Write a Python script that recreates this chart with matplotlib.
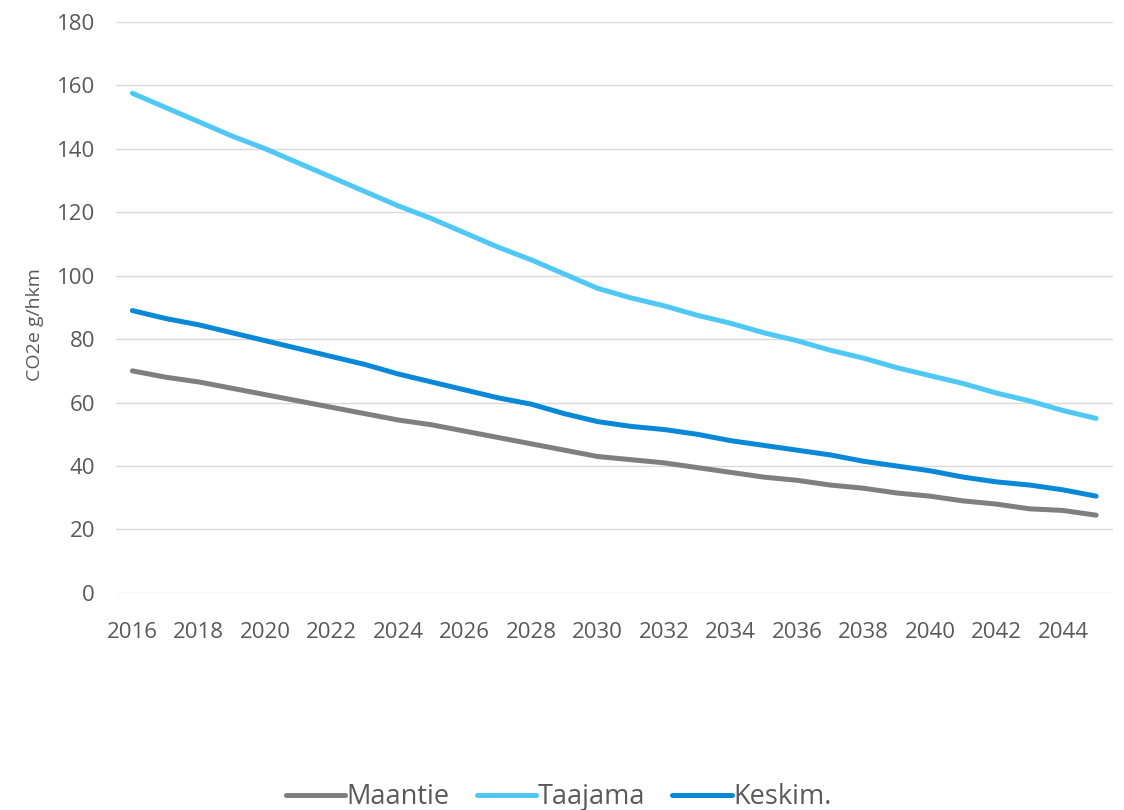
import matplotlib
matplotlib.use('Agg')
import matplotlib.pyplot as plt

years = list(range(2016, 2046))

# CO2e g/hkm
maantie = [70, 68, 66.5, 64.5, 62.5, 60.5, 58.5, 56.5, 54.5, 53,
           51, 49, 47, 45, 43, 42, 41, 39.5, 38, 36.5,
           35.5, 34, 33, 31.5, 30.5, 29, 28, 26.5, 26, 24.5]
taajama = [157.5, 153, 148.5, 144, 140, 135.5, 131, 126.5, 122, 118,
           113.5, 109, 105, 100.5, 96, 93, 90.5, 87.5, 85, 82,
           79.5, 76.5, 74, 71, 68.5, 66, 63, 60.5, 57.5, 55]
keskim = [89, 86.5, 84.5, 82, 79.5, 77, 74.5, 72, 69, 66.5,
          64, 61.5, 59.5, 56.5, 54, 52.5, 51.5, 50, 48, 46.5,
          45, 43.5, 41.5, 40, 38.5, 36.5, 35, 34, 32.5, 30.5]

labels = ['Maantie', 'Taajama', 'Keskim.']
colors = ['#7f7f7f', '#4fc8f5', '#0a88d8']
xticks = list(range(2016, 2045, 2))
yticks = list(range(0, 181, 20))

plt.rcParams['font.family'] = ['Open Sans', 'DejaVu Sans']
txt = '#595959'

fig = plt.figure(figsize=(11.24, 8.10), dpi=100)
ax = fig.add_axes([0.103, 0.268, 0.887, 0.705])

for series, lab, col in zip([maantie, taajama, keskim], labels, colors):
    ax.plot(years, series, color=col, linewidth=3.6, label=lab,
            solid_capstyle='round', solid_joinstyle='round')

ax.set_xlim(2015.5, 2045.5)
ax.set_ylim(0, 180)
ax.set_xticks(xticks)
ax.set_yticks(yticks)
ax.grid(axis='y', color='#d9d9d9', linewidth=1.0)
ax.set_axisbelow(True)
for s in ax.spines.values():
    s.set_visible(False)
ax.tick_params(axis='both', length=0, labelcolor=txt, labelsize=16)
ax.tick_params(axis='x', pad=21)
ax.tick_params(axis='y', pad=15)

ax.set_ylabel('CO2e g/hkm', fontsize=14, color=txt)
ax.yaxis.set_label_coords(-0.072, 0.47)

fig.legend(loc='center', bbox_to_anchor=(0.497, 0.016), ncol=3, frameon=False,
           fontsize=19.5, handlelength=2.2, handletextpad=0.05,
           columnspacing=1.0, labelcolor=txt)

fig.savefig('out.png', dpi=100)
